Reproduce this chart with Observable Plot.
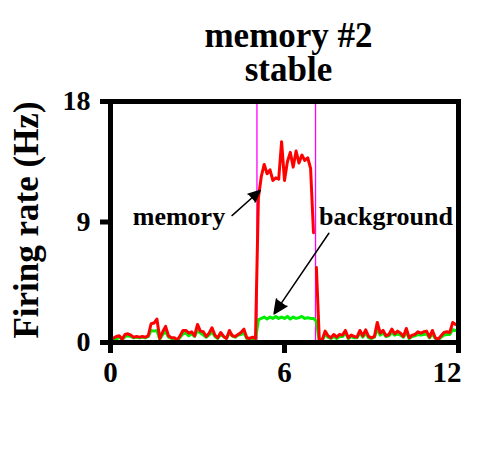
<!DOCTYPE html>
<html><head><meta charset="utf-8">
<script src="https://cdn.jsdelivr.net/npm/d3@7"></script>
<script src="https://cdn.jsdelivr.net/npm/@observablehq/plot@0.6"></script>
<style>body{margin:0;background:#fff}</style>
</head><body><div id="chart"></div>
<script>
// Firing rate (Hz), sampled every 0.1 s from 0 to 12 s
const memory = [
  0.2,0.33,0.45,0.5,0.25,0.6,0.65,0.55,0.4,0.45,
  0.4,0.45,0.4,0.5,1.4,1.45,1.75,0.3,0.8,1.2,
  0.5,0.35,0.35,0.2,0.5,0.9,0.9,0.7,0.8,0.5,
  1.35,0.85,0.8,0.45,0.7,1.1,0.55,0.35,0.75,0.45,
  0.3,0.9,0.5,0.45,0.6,0.75,1.0,0.35,0.3,0.4,
  0.3,10.8,12.4,13.3,12.6,12.9,12.1,12.3,12.2,15.0,
  12.1,13.5,14.2,13.1,14.3,13.4,14.0,13.6,13.8,13.0,
  8.2,5.6,0.2,0.2,0.85,0.5,0.35,0.6,0.4,0.6,
  0.55,0.9,0.35,0.55,0.45,0.4,0.9,0.5,0.95,0.45,
  0.35,0.45,1.5,0.7,0.9,0.5,0.6,1.0,0.65,0.85,
  0.7,0.45,1.05,0.35,0.55,0.6,0.8,0.7,0.8,0.85,
  0.4,0.9,0.35,0.25,0.5,0.75,0.8,0.75,1.5,1.35,
  1.25
];
const background = [
  0.15,0.3,0.2,0.45,0.2,0.45,0.5,0.45,0.35,0.4,
  0.35,0.4,0.35,0.45,0.9,0.85,0.9,0.25,0.6,0.8,
  0.4,0.3,0.3,0.15,0.4,0.65,0.7,0.5,0.65,0.45,
  0.9,0.7,0.55,0.4,0.55,0.8,0.45,0.3,0.6,0.45,
  0.3,0.7,0.5,0.4,0.55,0.6,0.7,0.3,0.25,0.3,
  0.2,1.7,1.8,1.9,1.75,1.9,1.8,1.95,1.8,1.9,
  1.8,1.95,1.75,1.9,1.8,1.85,1.95,1.8,1.85,1.8,
  1.8,1.6,0.1,0.15,0.6,0.4,0.3,0.45,0.3,0.45,
  0.45,0.7,0.3,0.45,0.35,0.35,0.7,0.4,0.7,0.35,
  0.3,0.4,1.0,0.55,0.7,0.45,0.5,0.75,0.55,0.65,
  0.55,0.4,0.75,0.3,0.45,0.5,0.6,0.55,0.6,0.65,
  0.35,0.65,0.3,0.2,0.4,0.55,0.6,0.6,0.95,0.9,
  0.85
];
const sampleStep = 0.1;
const memoryBreakAfter = 7.0;          // recording gap in the memory trace
const stimulusEdges = [5.05, 7.07];    // magenta markers (s)
const xTicks = [0, 6, 12];
const yTicks = [0, 9, 18];
const title = "memory #2\nstable";
const yLabel = "Firing rate (Hz)";
const annotationLabels = ["memory", "background"];
const annotationLabelX = [2.36, 9.5];
const annotationLabelY = [9.4, 9.4];
const arrowFromX = [4.19, 7.53];
const arrowFromY = [9.48, 8.16];
const arrowToX = [5.16, 5.64];
const arrowToY = [11.35, 2.14];

const rows = memory.map((m, i) => {
  const t = +(i * sampleStep).toFixed(1);
  return {t, mem: m, bg: background[i], seg: t <= memoryBreakAfter + 1e-9 ? "a" : "b"};
});
const notes = annotationLabels.map((label, i) => ({
  label, x: annotationLabelX[i], y: annotationLabelY[i],
  x1: arrowFromX[i], y1: arrowFromY[i], x2: arrowToX[i], y2: arrowToY[i]
}));

const serif = "'Liberation Serif', 'Times New Roman', Times, serif";
const chart = Plot.plot({
  width: 477, height: 455,
  marginLeft: 110, marginRight: 19, marginTop: 101, marginBottom: 113,
  style: {fontFamily: serif, fontWeight: "bold", background: "white", color: "black", overflow: "visible"},
  x: {domain: [0, 12]},
  y: {domain: [0, 18]},
  marks: [
    Plot.ruleX(stimulusEdges, {stroke: "#ff00ff", strokeWidth: 1.3}),
    Plot.line(rows, {x: "t", y: "bg", stroke: "#00ee00", strokeWidth: 3}),
    Plot.line(rows, {x: "t", y: "mem", z: "seg", stroke: "#ff0000", strokeWidth: 3}),
    Plot.arrow(notes, {x1: "x1", y1: "y1", x2: "x2", y2: "y2", stroke: "black", fill: "black",
      strokeWidth: 1.5, headLength: 15, headAngle: 50}),
    Plot.text(notes, {x: "x", y: "y", text: "label", fontSize: 26, fontWeight: "bold", fill: "black"}),
    Plot.frame({stroke: "black", strokeWidth: 5}),
    Plot.axisY({ticks: yTicks, tickSize: 10, strokeWidth: 5, tickPadding: 10, fontSize: 28, label: null}),
    Plot.axisX({ticks: xTicks, tickSize: 11, strokeWidth: 5, tickPadding: 8, fontSize: 29,
      tickFormat: d => d === 12 ? "" : String(d), label: null}),
    Plot.text([12], {x: d => d, frameAnchor: "bottom", dy: 19, dx: 3, lineAnchor: "top",
      textAnchor: "end", fontSize: 29, text: d => String(d)}),
    Plot.text([title], {frameAnchor: "top", dy: -21, dx: 4, lineAnchor: "bottom",
      fontSize: 35, lineHeight: 0.97, text: d => d}),
    Plot.text([yLabel], {frameAnchor: "left", dx: -73, dy: -2, rotate: -90, lineAnchor: "bottom",
      textAnchor: "middle", fontSize: 35, text: d => d})
  ]
});
document.getElementById("chart").append(chart);
</script>
</body></html>
